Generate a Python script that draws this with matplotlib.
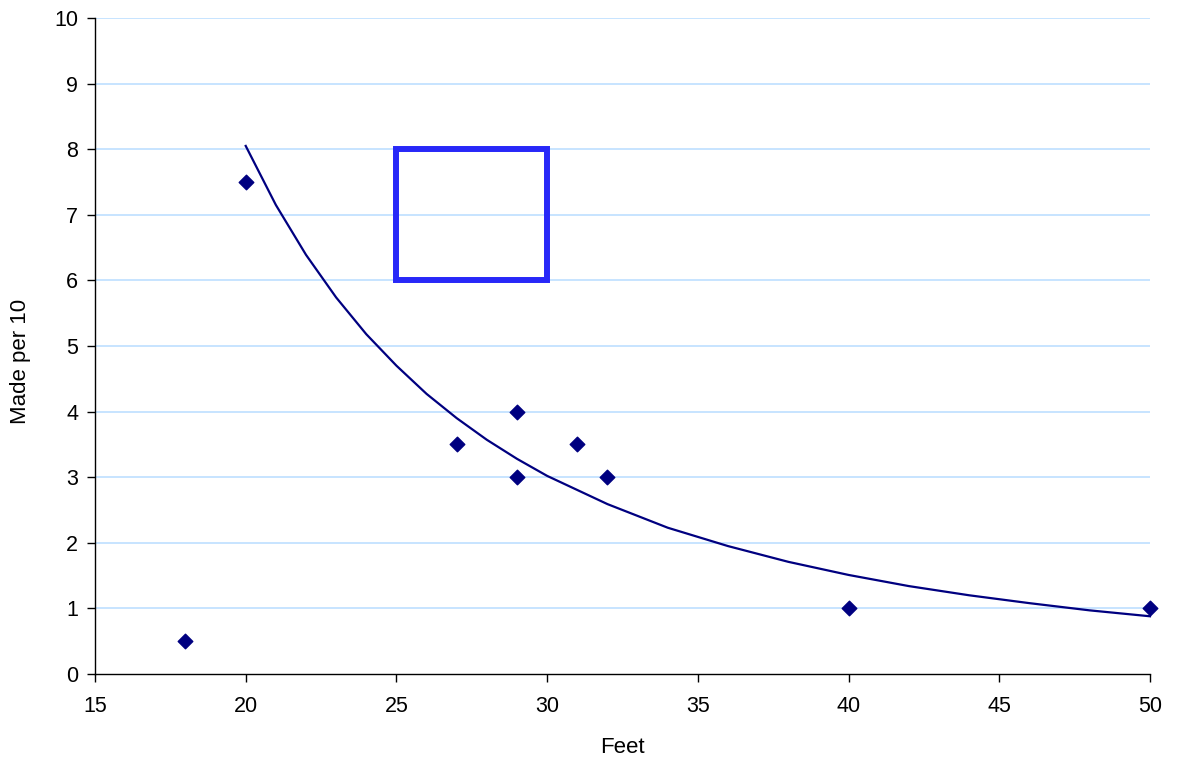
import matplotlib
matplotlib.use("Agg")
import matplotlib.pyplot as plt
from matplotlib.patches import Rectangle

plt.rcParams['font.family'] = ['Liberation Sans', 'DejaVu Sans']

# Observed data
feet = [18, 20, 27, 29, 29, 31, 32, 40, 50]
made = [0.5, 7.5, 3.5, 4, 3, 3.5, 3, 1, 1]

# Trend line values
trend_x = [20, 21, 22, 23, 24, 25, 26, 27, 28, 29, 30, 32, 34, 36, 38, 40, 42, 44, 46, 48, 50]
trend_y = [8.05, 7.15, 6.39, 5.74, 5.18, 4.70, 4.27, 3.90, 3.57, 3.28, 3.02,
           2.59, 2.23, 1.95, 1.71, 1.51, 1.34, 1.20, 1.08, 0.97, 0.88]

# Highlight box (x range, y range)
box_x = [25, 30]
box_y = [6, 8]

x_ticks = [15, 20, 25, 30, 35, 40, 45, 50]
y_ticks = list(range(0, 11))

fig = plt.figure(figsize=(11.77, 7.61), dpi=100)
ax = fig.add_axes([95/1177, 1 - 674/761, (1150 - 95)/1177, (674 - 18)/761])

ax.set_xlim(15, 50)
ax.set_ylim(0, 10)

for y in y_ticks[1:]:
    ax.axhline(y, color='#b8dcff', linewidth=1.1, zorder=0)

ax.plot(trend_x, trend_y, color='#000080', linewidth=1.6, zorder=3, clip_on=False)
ax.scatter(feet, made, marker='D', s=55, color='#000080', zorder=4, clip_on=False)

ax.add_patch(Rectangle((box_x[0], box_y[0]), box_x[1] - box_x[0], box_y[1] - box_y[0],
                       fill=False, edgecolor='#2828f8', linewidth=4.3, zorder=5))

for s in ['top', 'right']:
    ax.spines[s].set_visible(False)
for s in ['left', 'bottom']:
    ax.spines[s].set_color('black')
    ax.spines[s].set_linewidth(1.0)

ax.set_xticks(x_ticks)
ax.set_yticks(y_ticks)
ax.tick_params(axis='both', direction='out', length=6, width=1, labelsize=15.5, colors='black')
ax.tick_params(axis='x', pad=10)
ax.tick_params(axis='y', pad=6)

ax.set_xlabel('Feet', fontsize=16, labelpad=14)
ax.set_ylabel('Made per 10', fontsize=16)
ax.yaxis.set_label_coords((31 - 95) / 1055, (674 - 361) / 656)

fig.savefig('out.png', dpi=100)
